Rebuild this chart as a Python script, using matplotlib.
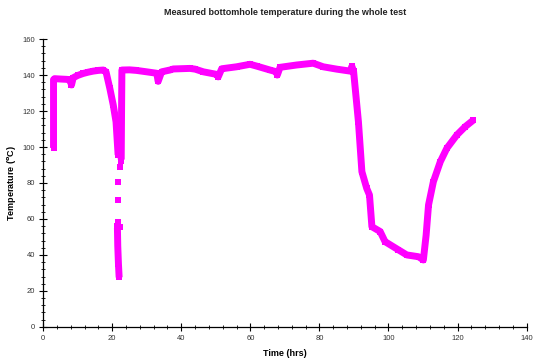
import numpy as np
import matplotlib.pyplot as plt
from matplotlib.ticker import MultipleLocator

plt.rcParams['font.family'] = ['Liberation Sans', 'DejaVu Sans']

# first part of the test: warm-up, then drop towards the gap
drop_time = [3.0, 3.0, 3.3, 5.0, 7.0, 7.8, 8.2, 8.7, 10.0, 11.6, 13.0, 14.5,
             16.0, 17.4, 18.2, 19.3, 20.3, 21.1, 21.4, 21.7]
drop_temp = [99.5, 137.5, 138.0, 137.8, 137.6, 137.0, 134.5, 138.5, 139.8, 140.9,
             141.6, 142.2, 142.6, 142.8, 141.8, 132.6, 123.3, 114.0, 104.8, 95.6]

# isolated readings in the gap around 22 hrs
gap_time = [22.2, 21.8, 21.7, 21.6, 21.5, 22.3, 22.4]
gap_temp = [89.0, 80.7, 70.4, 58.5, 56.0, 55.5, 92.0]

# bottom of the dip
low_time = [21.5, 21.6, 21.8, 22.0]
low_temp = [55.0, 45.0, 35.0, 27.5]

# recovery and rest of the test
rest_time = [22.6, 22.7, 22.8, 25.0, 27.0, 30.0, 32.9, 33.3, 34.3, 36.7, 37.7,
             42.5, 44.0, 46.4, 50.2, 50.7, 51.7, 56.0, 59.9, 61.8, 65.7, 67.6,
             67.8, 68.6, 73.4, 78.2, 81.1, 85.0, 88.9, 89.4, 89.9, 91.3, 92.3,
             93.7, 94.5, 95.2, 97.6, 99.0, 102.9, 105.3, 108.7, 110.1, 110.9,
             111.6, 113.0, 115.0, 116.9, 119.8, 122.2, 124.6]
rest_temp = [93.0, 120.0, 142.8, 142.9, 142.6, 141.8, 141.0, 136.5, 141.8, 142.8,
             143.4, 143.7, 143.3, 141.8, 140.4, 139.0, 143.5, 144.6, 146.0, 145.0,
             142.8, 141.8, 140.0, 144.3, 145.6, 146.6, 144.6, 143.3, 142.2, 144.8,
             142.0, 114.0, 86.3, 77.0, 73.3, 55.7, 53.0, 47.4, 42.8, 40.0, 39.0,
             37.2, 51.0, 67.8, 80.7, 91.8, 99.3, 106.7, 111.3, 115.0]

col = '#ff00ff'

fig = plt.figure(figsize=(5.33, 3.62), dpi=100)
ax = fig.add_axes([0.081, 0.097, 0.907, 0.795])

for t, T in [(drop_time, drop_temp), (low_time, low_temp), (rest_time, rest_temp)]:
    ax.plot(t, T, color=col, lw=5, marker='s', ms=5, mew=0,
            solid_joinstyle='round', solid_capstyle='butt')
ax.plot(gap_time, gap_temp, ls='none', color=col, marker='s', ms=5, mew=0)

ax.set_xlim(0, 140)
ax.set_ylim(0, 160)
ax.xaxis.set_major_locator(MultipleLocator(20))
ax.xaxis.set_minor_locator(MultipleLocator(4))
ax.yaxis.set_major_locator(MultipleLocator(20))
ax.yaxis.set_minor_locator(MultipleLocator(4))
ax.tick_params(which='major', direction='inout', length=6, width=0.8,
               labelsize=5.5, labelcolor='#333333', pad=3)
ax.tick_params(which='minor', direction='inout', length=3, width=0.6)

for s in ['top', 'right']:
    ax.spines[s].set_visible(False)
for s in ['left', 'bottom']:
    ax.spines[s].set_linewidth(0.9)

ax.set_title('Measured bottomhole temperature during the whole test',
             fontsize=6.5, fontweight='bold', color='#222222', pad=17)
ax.set_xlabel('Time (hrs)', fontsize=6.5, fontweight='bold', labelpad=5)
ax.set_ylabel(r'Temperature ($^{\mathbf{o}}$C)', fontsize=6.5, fontweight='bold', labelpad=3)

fig.savefig('out.png', dpi=100)
